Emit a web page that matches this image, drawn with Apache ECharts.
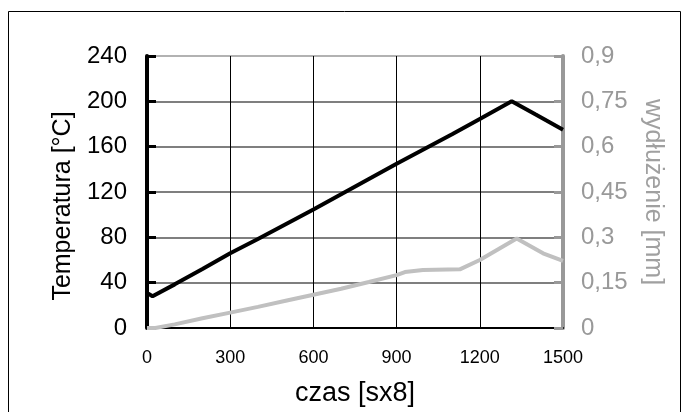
<!DOCTYPE html>
<html>
<head>
<meta charset="utf-8">
<script src="https://cdn.jsdelivr.net/npm/echarts@6/dist/echarts.min.js"></script>
<style>html,body{margin:0;padding:0;background:#fff}#c{width:687px;height:412px}</style>
</head>
<body>
<div id="c"></div>
<script>
// Temperature series (left axis)
var timeT = [0, 20, 100, 200, 300, 400, 500, 600, 700, 800, 900, 1000, 1100, 1200, 1315, 1400, 1500];
var temp  = [31, 28, 38.5, 52, 66, 78.5, 91.5, 104.5, 118, 131.5, 145, 158, 171, 184.5, 200, 188.5, 175];
// Elongation series (right axis)
var timeE = [0, 30, 100, 200, 300, 400, 500, 600, 700, 800, 900, 930, 995, 1128, 1200, 1333, 1428, 1500];
var elong = [0, 0, 0.012, 0.032, 0.051, 0.07, 0.09, 0.11, 0.13, 0.152, 0.175, 0.185, 0.192, 0.194, 0.225, 0.296, 0.247, 0.222];
// Axis ticks
var xTicks = [0, 300, 600, 900, 1200, 1500];
var leftTicks = [0, 40, 80, 120, 160, 200, 240];
var rightTicks = [0, 0.15, 0.3, 0.45, 0.6, 0.75, 0.9];

var FONT = 'Liberation Sans, Arial, sans-serif';
var chart = echarts.init(document.getElementById('c'));
chart.setOption({
  animation: false,
  backgroundColor: '#fff',
  graphic: [{
    type: 'rect', silent: true, z: 0,
    shape: {x: 8.5, y: 11.5, width: 672, height: 420},
    style: {fill: 'none', stroke: '#000', lineWidth: 1}
  }],
  grid: {left: 147, right: 124, top: 56, bottom: 82, containLabel: false},
  xAxis: {
    type: 'value', min: xTicks[0], max: xTicks[xTicks.length - 1], interval: 300,
    name: 'czas [sx8]', nameLocation: 'middle', nameGap: 52,
    nameTextStyle: {fontFamily: FONT, fontSize: 27, color: '#000'},
    axisLine: {lineStyle: {color: '#000', width: 2}},
    axisTick: {show: false},
    axisLabel: {fontFamily: FONT, fontSize: 18, color: '#000', margin: 21,
      formatter: function (v) { return String(v); }},
    splitLine: {show: true, lineStyle: {color: '#000', width: 1}}
  },
  yAxis: [{
    type: 'value', min: leftTicks[0], max: leftTicks[leftTicks.length - 1], interval: 40,
    name: 'Temperatura [°C]', nameLocation: 'middle', nameGap: 71, nameRotate: 90,
    nameTextStyle: {fontFamily: FONT, fontSize: 25, color: '#000', padding: [0, 28, 0, 0]},
    axisLine: {show: true, onZero: false, lineStyle: {color: '#000', width: 4}},
    axisTick: {show: true, inside: true, length: 9, lineStyle: {color: '#000', width: 3}},
    axisLabel: {fontFamily: FONT, fontSize: 24, color: '#000', margin: 20,
      formatter: function (v) { return String(v); }},
    splitLine: {show: true, lineStyle: {color: ['#555', '#555', '#555', '#555', '#555', '#555', '#999'], width: 1.5}}
  }, {
    type: 'value', min: rightTicks[0], max: rightTicks[rightTicks.length - 1], interval: 0.15,
    position: 'right',
    name: 'wydłużenie [mm]', nameLocation: 'middle', nameGap: 77, nameRotate: -90,
    nameTextStyle: {fontFamily: FONT, fontSize: 25, color: '#a0a0a0'},
    axisLine: {show: true, onZero: false, lineStyle: {color: '#999', width: 4}},
    axisTick: {show: true, inside: true, length: 9, lineStyle: {color: '#999', width: 3}},
    axisLabel: {fontFamily: FONT, fontSize: 24, color: '#999', margin: 18,
      formatter: function (v) { return String(+v.toFixed(2)).replace('.', ','); }},
    splitLine: {show: false}
  }],
  series: [{
    type: 'line', yAxisIndex: 1, showSymbol: false, z: 3,
    data: timeE.map(function (t, i) { return [t, elong[i]]; }),
    lineStyle: {color: '#c0c0c0', width: 4}
  }, {
    type: 'line', yAxisIndex: 0, showSymbol: false, z: 4,
    data: timeT.map(function (t, i) { return [t, temp[i]]; }),
    lineStyle: {color: '#000', width: 4}
  }]
});
</script>
</body>
</html>
